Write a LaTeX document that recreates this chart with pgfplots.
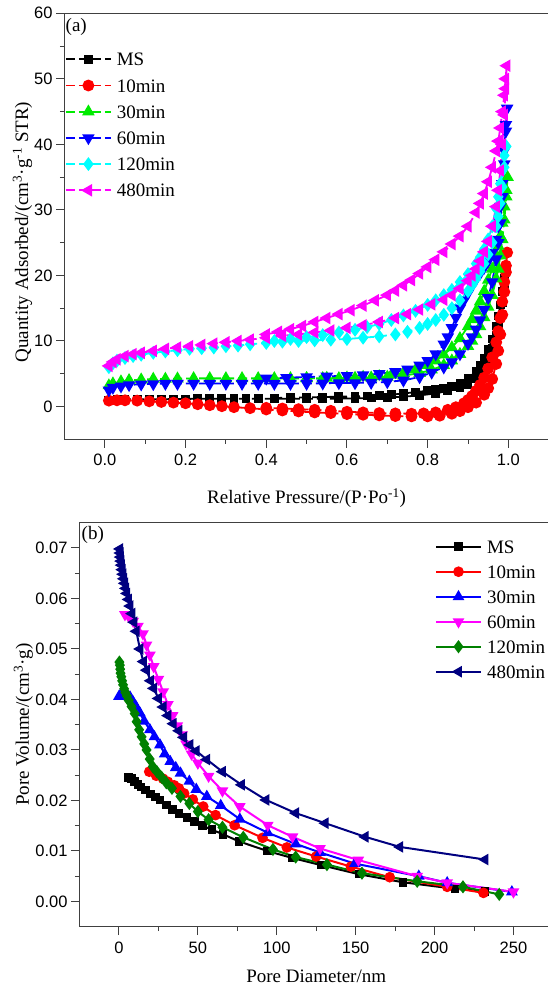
\documentclass[border=0pt]{standalone}
\usepackage{fontspec}
\setmainfont{Liberation Serif}
\newfontfamily\arialf{Liberation Sans}
\usepackage{pgfplots}
\pgfplotsset{compat=1.18}
\definecolor{cgreen}{RGB}{0,235,0}
\definecolor{ccyan}{RGB}{0,255,255}
\definecolor{cmag}{RGB}{255,0,255}
\definecolor{cblue}{RGB}{0,0,255}
\definecolor{cred}{RGB}{255,0,0}
\definecolor{dgreen}{RGB}{0,128,0}
\definecolor{cnavy}{RGB}{0,0,128}
\pgfplotsset{
 mystyle/.style={
  scale only axis,
  axis line style={black!75, line width=1pt},
  tick style={black!75, line width=1pt},
  tick align=outside, tick pos=left,
  major tick length=8.3pt, minor tick length=4.5pt,
  minor x tick num=1, minor y tick num=1,
  tick label style={font=\arialf\fontsize{16.5}{19}\selectfont, inner sep=0pt},
  /pgf/number format/assume math mode=true,
  label style={font=\fontsize{19}{22}\selectfont},
  legend style={draw=none, fill=none, inner sep=0pt, outer sep=0pt,
    font=\fontsize{19}{22}\selectfont,
    nodes={inner sep=0pt, text height=13pt, text depth=0pt},
    column sep=5pt, anchor=north west},
  legend cell align=left,
  legend image code/.code={\draw[mark repeat=2,mark phase=2,#1] plot coordinates {(0pt,0pt) (22.5pt,0pt) (45pt,0pt)};},
  xticklabel style={yshift=-6.5pt},
  yticklabel style={xshift=-3.5pt},
 },
 dsh/.style={line width=1.8pt, dash pattern=on 9pt off 4pt},
}
\begin{document}
\begin{tikzpicture}[x=1pt,y=1pt]
\begin{axis}[mystyle, at={(64.5pt,-439.3pt)}, anchor=south west,
  width=484.2pt, height=426pt,
  xmin=-0.1, xmax=1.1, ymin=-5, ymax=60,
  xtick={0,0.2,0.4,0.6,0.8,1.0}, ytick={0,10,20,30,40,50,60},
  xticklabel style={/pgf/number format/fixed, /pgf/number format/fixed zerofill, /pgf/number format/precision=1},
  xlabel={Relative Pressure/(P·Po\textsuperscript{-1})},
  ylabel={Quantity Adsorbed/(cm\textsuperscript{3}·g\textsuperscript{-1} STR)},
  xlabel style={at={(axis description cs:0.5,-0.138)}, anchor=center},
  ylabel style={at={(axis description cs:-0.0867,0.4866)}, anchor=center},
  legend style={at={(axis description cs:0,1)}, xshift=0.5pt, yshift=-39.5pt, row sep=13.2pt},
]
\addplot[black, dsh, mark=square*, mark size=3.5pt, mark options={solid}] coordinates {
(0.01,1.0)(0.03,1.05)(0.05,1.1)(0.08,1.1)(0.11,1.1)(0.14,1.1)(0.17,1.15)(0.2,1.15)(0.23,1.2)(0.26,1.2)(0.29,1.2)(0.32,1.2)(0.35,1.2)(0.38,1.2)(0.42,1.2)(0.46,1.2)(0.5,1.2)(0.54,1.2)(0.58,1.2)(0.62,1.25)(0.66,1.3)(0.7,1.4)(0.74,1.5)(0.78,1.7)(0.82,2.0)(0.85,2.4)(0.88,2.9)(0.9,3.4)(0.92,4.3)(0.93,5.0)(0.94,6.0)(0.95,7.3)(0.96,8.8)(0.97,10.8)(0.975,12.2)(0.98,13.8)(0.985,15.8)(0.99,18.0)(0.995,21.0)
(0.99,19.5)(0.985,17.5)(0.98,15.5)(0.975,13.8)(0.97,12.3)(0.96,10.3)(0.95,8.7)(0.94,7.4)(0.93,6.3)(0.92,5.4)(0.9,4.3)(0.88,3.6)(0.86,3.1)(0.84,2.8)(0.82,2.6)(0.8,2.4)(0.77,2.2)(0.74,2.0)(0.71,1.8)(0.68,1.7)(0.65,1.6)(0.62,1.55)(0.58,1.5)(0.54,1.45)(0.5,1.4)(0.46,1.35)(0.42,1.3)
};
\addplot[cred, dsh, mark=*, mark size=5pt, mark options={solid}] coordinates {
(0.01,0.9)(0.03,0.95)(0.05,0.95)(0.08,0.9)(0.11,0.8)(0.14,0.7)(0.17,0.6)(0.2,0.5)(0.23,0.35)(0.26,0.2)(0.29,0.05)(0.32,-0.1)(0.36,-0.25)(0.4,-0.45)(0.44,-0.6)(0.48,-0.75)(0.52,-0.9)(0.56,-1.0)(0.6,-1.15)(0.64,-1.25)(0.68,-1.35)(0.72,-1.45)(0.76,-1.5)(0.8,-1.5)(0.83,-1.4)(0.86,-1.1)(0.88,-0.7)(0.9,-0.1)(0.92,0.6)(0.94,1.8)(0.95,2.8)(0.96,4.2)(0.97,6.5)(0.975,8.5)(0.98,11)(0.985,14)(0.99,17.5)(0.994,20.5)(0.997,23.5)
(0.994,21.5)(0.99,19)(0.985,16)(0.98,13.5)(0.975,11.5)(0.97,9.8)(0.96,7.5)(0.95,5.8)(0.94,4.4)(0.93,3.3)(0.92,2.4)(0.91,1.6)(0.9,1.0)(0.89,0.5)(0.87,-0.1)(0.85,-0.5)(0.82,-0.9)(0.79,-1.05)(0.76,-1.1)(0.72,-1.05)(0.68,-1.0)(0.64,-0.9)(0.6,-0.8)(0.56,-0.65)(0.52,-0.5)(0.48,-0.4)(0.44,-0.3)(0.4,-0.2)
};
\addplot[cgreen, dsh, mark=triangle*, mark size=5.5pt, mark options={solid}] coordinates {
(0.01,3.2)(0.02,3.5)(0.04,3.8)(0.06,4.0)(0.09,4.1)(0.12,4.2)(0.15,4.2)(0.18,4.25)(0.22,4.3)(0.26,4.3)(0.3,4.3)(0.34,4.3)(0.38,4.3)(0.42,4.3)(0.46,4.3)(0.5,4.3)(0.54,4.3)(0.58,4.3)(0.62,4.35)(0.66,4.4)(0.7,4.5)(0.74,4.7)(0.78,5.1)(0.81,5.6)(0.84,6.3)(0.86,7.0)(0.88,8.0)(0.9,9.2)(0.91,10.0)(0.92,11.0)(0.93,12.2)(0.94,13.6)(0.95,15.2)(0.96,17.0)(0.97,19.5)(0.975,21.0)(0.98,23)(0.985,25.5)(0.99,28.5)(0.995,32)(0.998,35)
(0.995,33)(0.99,30.5)(0.985,28)(0.98,26)(0.975,24.5)(0.97,23)(0.96,21)(0.95,19.3)(0.94,17.6)(0.93,16.0)(0.92,14.6)(0.91,13.3)(0.9,12.2)(0.88,10.4)(0.86,9.0)(0.84,7.9)(0.82,7.0)(0.8,6.3)(0.77,5.6)(0.74,5.1)(0.71,4.8)(0.68,4.6)(0.64,4.5)(0.6,4.4)(0.55,4.35)(0.5,4.3)
};
\addplot[cblue, dsh, mark=triangle*, mark size=5.5pt, mark options={solid, rotate=180}] coordinates {
(0.01,2.5)(0.02,2.9)(0.04,3.1)(0.06,3.3)(0.09,3.4)(0.12,3.45)(0.15,3.5)(0.18,3.5)(0.22,3.5)(0.26,3.5)(0.3,3.5)(0.34,3.5)(0.38,3.5)(0.42,3.5)(0.46,3.5)(0.5,3.5)(0.54,3.55)(0.58,3.6)(0.62,3.6)(0.66,3.65)(0.7,3.75)(0.74,4.0)(0.78,4.5)(0.81,5.2)(0.84,6.0)(0.86,6.8)(0.88,8.0)(0.9,9.6)(0.91,10.6)(0.92,11.8)(0.93,13.2)(0.94,14.8)(0.95,16.6)(0.96,19)(0.97,22.5)(0.975,25)(0.98,28)(0.985,32)(0.99,37)(0.994,42)(0.997,45.5)
(0.994,43)(0.99,39)(0.985,34)(0.98,30.5)(0.975,27.5)(0.97,25.5)(0.96,23.5)(0.95,22.2)(0.94,21.2)(0.93,20.3)(0.92,19.4)(0.91,18.4)(0.9,17.3)(0.89,16.2)(0.88,15.0)(0.87,13.6)(0.86,12.0)(0.85,10.6)(0.84,9.5)(0.82,8.0)(0.8,7.0)(0.78,6.3)(0.75,5.7)(0.72,5.3)(0.68,5.0)(0.64,4.8)(0.6,4.7)(0.55,4.6)(0.5,4.5)(0.45,4.4)(0.4,4.3)
};
\addplot[ccyan, dsh, mark=diamond*, mark size=5.5pt, mark options={solid}] coordinates {
(0.01,6.0)(0.02,6.6)(0.03,7.0)(0.05,7.4)(0.07,7.7)(0.09,7.9)(0.12,8.2)(0.15,8.4)(0.18,8.6)(0.21,8.8)(0.24,8.9)(0.27,9.0)(0.3,9.2)(0.33,9.3)(0.36,9.5)(0.4,9.7)(0.44,9.9)(0.48,10.0)(0.52,10.1)(0.56,10.2)(0.6,10.3)(0.64,10.5)(0.68,10.7)(0.72,11.0)(0.75,11.4)(0.78,12.0)(0.8,12.6)(0.82,13.2)(0.84,14.0)(0.86,15.0)(0.88,16.2)(0.9,17.6)(0.91,18.5)(0.92,19.5)(0.93,20.6)(0.94,21.8)(0.95,23.2)(0.96,25)(0.97,27.5)(0.975,29)(0.98,31)(0.985,33.5)(0.99,36.5)(0.995,39.7)
(0.99,38.3)(0.985,36)(0.98,34)(0.975,32)(0.97,30.2)(0.96,27.5)(0.95,25.5)(0.94,24)(0.93,22.8)(0.92,21.8)(0.9,20.2)(0.88,19.0)(0.86,17.8)(0.84,17.0)(0.82,16.2)(0.8,15.5)(0.77,14.6)(0.74,13.9)(0.71,13.2)(0.68,12.6)(0.65,12.1)(0.62,11.7)(0.58,11.3)(0.54,10.9)(0.5,10.6)(0.46,10.3)(0.42,10.0)
};
\addplot[cmag, dsh, mark=triangle*, mark size=5.5pt, mark options={solid, rotate=90}] coordinates {
(0.01,6.2)(0.02,6.8)(0.03,7.2)(0.05,7.7)(0.07,8.0)(0.09,8.2)(0.12,8.5)(0.15,8.8)(0.18,9.0)(0.21,9.2)(0.24,9.4)(0.27,9.6)(0.3,9.8)(0.33,10.0)(0.36,10.2)(0.4,10.5)(0.44,10.8)(0.48,11.0)(0.52,11.3)(0.56,11.6)(0.6,12.0)(0.64,12.4)(0.68,12.9)(0.72,13.5)(0.75,14.1)(0.78,14.8)(0.81,15.6)(0.84,16.3)(0.86,17.0)(0.88,18.0)(0.9,19.2)(0.91,20.0)(0.92,21.0)(0.93,22.2)(0.94,23.6)(0.95,25.2)(0.96,27.5)(0.97,30.5)(0.975,33)(0.98,36)(0.985,40)(0.99,44.5)(0.993,48.5)(0.996,52)
(0.993,50)(0.99,47.5)(0.985,45)(0.98,42.5)(0.975,40.5)(0.97,39)(0.96,36.5)(0.95,34.3)(0.94,32.5)(0.93,31)(0.92,29.6)(0.9,27.5)(0.88,26)(0.86,24.8)(0.84,23.6)(0.82,22.4)(0.8,21.3)(0.78,20.3)(0.76,19.3)(0.74,18.5)(0.72,17.7)(0.7,17.0)(0.67,16.2)(0.64,15.4)(0.61,14.7)(0.58,14.1)(0.55,13.5)(0.52,12.9)(0.49,12.3)(0.46,11.8)(0.43,11.4)(0.4,11.0)
};
\legend{MS,10min,30min,60min,120min,480min}
\node[anchor=north west, inner sep=0pt, xshift=1pt, yshift=-4.5pt, font=\fontsize{19}{22}\selectfont] at (rel axis cs:0,1) {(a)};
\end{axis}

\begin{axis}[mystyle, at={(79.5pt,-926.7pt)}, anchor=south west,
  width=473.4pt, height=404pt,
  xmin=-25, xmax=275, ymin=-0.005, ymax=0.075,
  xtick={0,50,100,150,200,250}, ytick={0,0.01,0.02,0.03,0.04,0.05,0.06,0.07},
  scaled y ticks=false,
  yticklabel style={/pgf/number format/fixed, /pgf/number format/fixed zerofill, /pgf/number format/precision=2},
  xlabel={Pore Diameter/nm},
  ylabel={Pore Volume/(cm\textsuperscript{3}·g)},
  xlabel style={at={(axis description cs:0.5,-0.122)}, anchor=center},
  ylabel style={at={(axis description cs:-0.1183,0.5)}, anchor=center},
  legend style={at={(axis description cs:0,1)}, xshift=355.5pt, yshift=-17.5pt, row sep=12pt},
]
\addplot[black, line width=2pt, mark=square*, mark size=3.3pt] coordinates {
(6,0.0245)(8,0.0243)(10,0.0238)(12,0.0232)(14,0.0227)(17,0.0221)(20,0.0213)(23,0.0207)(26,0.0201)(30,0.0191)(34,0.0182)(38,0.0174)(43,0.0166)(48,0.0158)(53,0.0150)(59,0.0142)(66,0.0133)(76,0.0119)(94,0.0100)(110,0.0086)(128,0.0072)(152,0.0054)(180,0.0038)(213,0.0025)(232,0.0020)
};
\addplot[cred, line width=2pt, mark=*, mark size=4.3pt] coordinates {
(19.2,0.0257)(23.6,0.0249)(28,0.0243)(31,0.0237)(35,0.0230)(38,0.0224)(41.3,0.0214)(46.8,0.0202)(53.4,0.0188)(61.2,0.0171)(73.3,0.0151)(91,0.0126)(106.4,0.0107)(125,0.0089)(147,0.0069)(171.6,0.0048)(208,0.0029)(231,0.0017)
};
\addplot[cblue, line width=2pt, mark=triangle*, mark size=4.8pt] coordinates {
(0,0.0406)(1.5,0.0412)(3,0.0413)(5,0.0410)(7,0.0405)(9,0.0395)(11,0.0385)(13.3,0.0373)(16,0.0357)(19.6,0.0340)(22.5,0.0326)(26,0.0310)(29,0.0292)(32.5,0.0277)(36,0.0265)(39,0.0254)(44.6,0.0238)(49,0.0222)(55.7,0.0208)(64.5,0.0190)(76.6,0.0163)(94.3,0.0136)(112,0.0114)(127.4,0.0097)(149.5,0.0075)(190,0.0050)(208,0.0037)(249,0.0019)
};
\addplot[cmag, line width=2pt, mark=triangle*, mark size=4.8pt, mark options={rotate=180}] coordinates {
(3.8,0.0568)(6,0.0565)(9,0.0555)(12,0.0545)(15.2,0.0530)(17.5,0.0508)(19.6,0.0488)(22,0.0465)(25,0.0440)(28,0.0415)(31,0.0390)(34,0.0368)(37,0.0348)(40,0.0330)(42.5,0.0312)(46,0.0292)(50,0.0274)(56.8,0.0248)(65.6,0.0219)(76.6,0.0188)(94.3,0.0151)(110,0.0128)(127.4,0.0105)(151.7,0.0082)(189,0.0050)(208,0.0037)(250,0.0019)
};
\addplot[dgreen, line width=2pt, mark=diamond*, mark size=5pt] coordinates {
(0.3,0.0474)(0.6,0.0468)(0.8,0.0460)(1,0.0452)(1.5,0.0445)(2,0.0437)(2.6,0.0429)(3.3,0.0421)(4,0.0414)(5,0.0407)(6.2,0.0398)(8,0.0386)(10,0.0372)(11.2,0.0356)(12.8,0.0340)(14.4,0.0326)(16,0.0312)(17.5,0.0300)(19.5,0.0282)(21.4,0.0267)(24,0.0257)(27,0.0246)(30,0.0235)(33.6,0.0224)(39,0.0208)(44.6,0.0194)(50,0.0178)(56.8,0.0162)(65.6,0.0147)(78.8,0.0127)(97.6,0.0103)(112,0.0088)(131.8,0.0073)(154,0.0056)(189,0.0040)(218,0.0029)(241,0.0014)
};
\addplot[cnavy, line width=2pt, mark=triangle*, mark size=4.8pt, mark options={rotate=90}] coordinates {
(0.5,0.0698)(0.8,0.0690)(1.0,0.0682)(1.3,0.0674)(1.6,0.0666)(2.0,0.0657)(2.5,0.0648)(3.0,0.0639)(3.6,0.0630)(4.3,0.0620)(5.0,0.0610)(6.0,0.0598)(7,0.0585)(8.2,0.0570)(9.5,0.0553)(11,0.0535)(13.3,0.0500)(15.5,0.0475)(17.5,0.0458)(20,0.0437)(22,0.0422)(25,0.0402)(28,0.0385)(31,0.0368)(34.4,0.0352)(38,0.0338)(41,0.0325)(45,0.0310)(49,0.0298)(55.7,0.0281)(65.6,0.0257)(77.7,0.0231)(93.2,0.0201)(112,0.0175)(130.7,0.0155)(156,0.0128)(178,0.0108)(232,0.0083)
};
\legend{MS,10min,30min,60min,120min,480min}
\node[anchor=north west, inner sep=0pt, xshift=2pt, yshift=-3.5pt, font=\fontsize{19}{22}\selectfont] at (rel axis cs:0,1) {(b)};
\end{axis}
\pgfresetboundingbox
\path[use as bounding box] (0pt,0pt) rectangle (547pt,-988pt);
\end{tikzpicture}
\end{document}
